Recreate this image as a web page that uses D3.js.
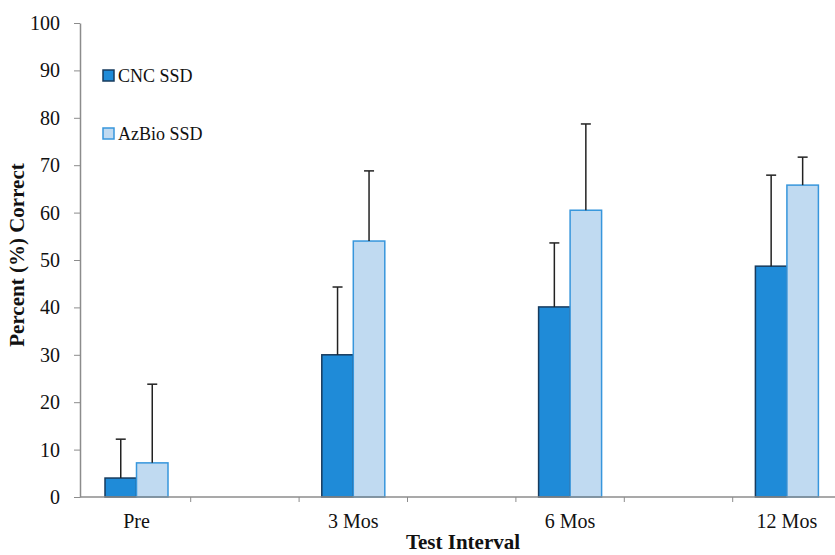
<!DOCTYPE html>
<html>
<head>
<meta charset="utf-8">
<script src="https://cdn.jsdelivr.net/npm/d3@7"></script>
<style>
  body { margin: 0; background: #fff; }
  text { font-family: "Liberation Serif", "DejaVu Serif", serif; fill: #111; }
</style>
</head>
<body>
<div id="chart"></div>
<script>
// categories (blank slots between intervals, as in the original sheet)
const slots = ["Pre", "", "3 Mos", "", "6 Mos", "", "12 Mos"];
const intervals = ["Pre", "3 Mos", "6 Mos", "12 Mos"];
const cncMean = [4.0, 30.0, 40.1, 48.7];
const cncTop = [12.2, 44.3, 53.6, 67.9];
const azMean = [7.2, 54.0, 60.5, 65.8];
const azTop = [23.8, 68.8, 78.7, 71.7];
const yTicks = [0, 10, 20, 30, 40, 50, 60, 70, 80, 90, 100];

const width = 835, height = 555;
const plotLeft = 80, plotBottom = 497, plotTop = 23;
const bandStart = 82.3, band = 108.4;

const svg = d3.select("#chart").append("svg")
  .attr("width", width)
  .attr("height", height);

const x = d3.scaleBand()
  .domain(slots.map((d, i) => i))
  .range([bandStart, bandStart + band * slots.length])
  .padding(0);

const y = d3.scaleLinear().domain([0, 100]).range([plotBottom, plotTop]);

const barW = 31.5;

const series = [
  { name: "CNC SSD", mean: cncMean, top: cncTop, fill: "#1f8bd8", stroke: "#173b5e", off: -barW },
  { name: "AzBio SSD", mean: azMean, top: azTop, fill: "#c0daf1", stroke: "#3796dc", off: 0 }
];

const cx = name => x(slots.indexOf(name)) + x.bandwidth() / 2;

// bars
series.forEach(s => {
  svg.append("g")
    .selectAll("rect")
    .data(intervals)
    .enter()
    .append("rect")
    .attr("x", d => cx(d) + s.off)
    .attr("y", (d, i) => y(s.mean[i]))
    .attr("width", barW)
    .attr("height", (d, i) => y(0) - y(s.mean[i]))
    .attr("fill", s.fill)
    .attr("stroke", s.stroke)
    .attr("stroke-width", 1.5);
});

// error bars (upper only)
series.forEach(s => {
  const g = svg.append("g").attr("stroke", "#222").attr("stroke-width", 1.5);
  intervals.forEach((d, i) => {
    const ex = cx(d) + s.off + barW / 2;
    g.append("line")
      .attr("x1", ex).attr("x2", ex)
      .attr("y1", y(s.mean[i])).attr("y2", y(s.top[i]));
    g.append("line")
      .attr("x1", ex - 5).attr("x2", ex + 5)
      .attr("y1", y(s.top[i])).attr("y2", y(s.top[i]));
  });
});

// y axis
const yAxis = svg.append("g")
  .attr("transform", `translate(${plotLeft},0)`)
  .call(d3.axisLeft(y).tickValues(yTicks).tickSize(6).tickSizeOuter(0).tickPadding(14));
yAxis.selectAll("text").style("font-size", "20px");

// x axis
const xAxis = svg.append("g").attr("transform", `translate(0,${plotBottom})`);
xAxis.append("line")
  .attr("class", "base")
  .attr("x1", plotLeft).attr("x2", width)
  .attr("y1", 0).attr("y2", 0);
xAxis.selectAll(".tk")
  .data(d3.range(1, slots.length))
  .enter()
  .append("line")
  .attr("class", "tk")
  .attr("x1", i => x(i)).attr("x2", i => x(i))
  .attr("y1", 0).attr("y2", 5);
xAxis.selectAll("text")
  .data(intervals)
  .enter()
  .append("text")
  .attr("x", d => cx(d))
  .attr("y", 31)
  .attr("text-anchor", "middle")
  .style("font-size", "20px")
  .text(d => d);

svg.selectAll(".domain, .tick line, line.tk, line.base").attr("stroke", "#8c8c8c");
svg.selectAll(".domain, line.base").attr("stroke-width", 1.5);

// axis titles
svg.append("text")
  .attr("x", 463)
  .attr("y", 549)
  .attr("text-anchor", "middle")
  .style("font-size", "21px")
  .style("font-weight", "bold")
  .text("Test Interval");

svg.append("text")
  .attr("transform", `translate(24,${(plotTop + plotBottom) / 2 - 5}) rotate(-90)`)
  .attr("text-anchor", "middle")
  .style("font-size", "21px")
  .style("font-weight", "bold")
  .text("Percent (%) Correct");

// legend
const legend = svg.append("g");
series.forEach((s, i) => {
  const ly = 70 + i * 58;
  legend.append("rect")
    .attr("x", 103).attr("y", ly)
    .attr("width", 11).attr("height", 11)
    .attr("fill", s.fill)
    .attr("stroke", s.stroke)
    .attr("stroke-width", 1.5);
  legend.append("text")
    .attr("x", 118).attr("y", ly + 12)
    .style("font-size", "18px")
    .text(s.name);
});
</script>
</body>
</html>
